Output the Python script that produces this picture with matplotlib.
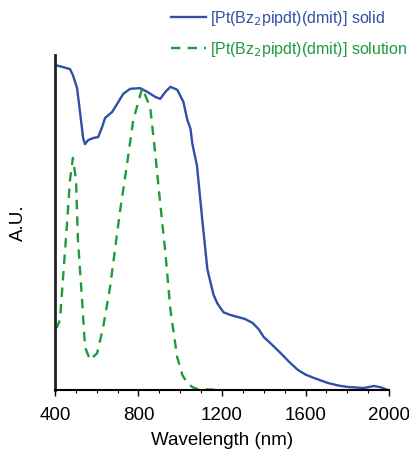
import numpy as np
import matplotlib.pyplot as plt

plt.rcParams['font.family'] = ['Liberation Sans', 'DejaVu Sans']

# solid state spectrum (wavelength nm, normalised absorbance)
solid_nm = [400, 438, 472, 486, 506, 520, 535, 544, 559, 583, 607, 626, 640,
            674, 698, 727, 760, 808, 842, 880, 904, 929, 953, 986, 1015, 1034,
            1049, 1058, 1080, 1106, 1130, 1159, 1178, 1207, 1240, 1275, 1310,
            1347, 1375, 1400, 1440, 1481, 1520, 1563, 1600, 1640, 1707, 1760,
            1803, 1880, 1928, 1960, 1995]
solid_au = [0.970, 0.964, 0.958, 0.940, 0.901, 0.830, 0.752, 0.734, 0.746,
            0.752, 0.755, 0.785, 0.812, 0.830, 0.854, 0.884, 0.899, 0.901,
            0.890, 0.875, 0.869, 0.890, 0.905, 0.896, 0.860, 0.806, 0.780,
            0.735, 0.670, 0.505, 0.360, 0.285, 0.258, 0.232, 0.224, 0.218,
            0.212, 0.200, 0.182, 0.158, 0.135, 0.110, 0.085, 0.060, 0.046,
            0.036, 0.021, 0.013, 0.009, 0.006, 0.012, 0.008, 0.000]

# solution spectrum
sol_nm = [400, 410, 424, 438, 458, 472, 486, 501, 510, 530, 544, 568, 602,
          631, 664, 698, 712, 746, 775, 818, 856, 880, 904, 929, 953, 985,
          1010, 1033, 1060, 1081, 1191]
sol_au = [0.185, 0.188, 0.209, 0.328, 0.498, 0.627, 0.693, 0.627, 0.448,
          0.269, 0.128, 0.090, 0.110, 0.188, 0.307, 0.469, 0.535, 0.678,
          0.806, 0.901, 0.845, 0.707, 0.558, 0.409, 0.239, 0.099, 0.045,
          0.021, 0.008, 0.003, 0.0]

blue = '#2f4fa8'
green = '#1f9a3c'

fig = plt.figure(figsize=(4.1, 4.5), dpi=100)
ax = fig.add_axes([0.134, 0.1333, 0.815, 0.7445])

ax.plot(solid_nm, solid_au, color=blue, lw=1.7, solid_joinstyle='round',
        label='[Pt(Bz$_2$pipdt)(dmit)] solid')
ax.plot(sol_nm, sol_au, color=green, lw=1.7, ls=(0, (4, 3)),
        dash_joinstyle='round',
        label='[Pt(Bz$_2$pipdt)(dmit)] solution')

ax.set_xlim(400, 2000)
ax.set_ylim(0, 1)
ax.set_xticks([400, 800, 1200, 1600, 2000])
ax.set_xticks(np.arange(400, 2001, 100), minor=True)
ax.set_yticks([])
ax.tick_params(axis='x', labelsize=13.5, length=4, width=1, direction='out',
               pad=8)
ax.tick_params(axis='x', which='minor', length=2.5, width=0.8)
ax.spines['top'].set_visible(False)
ax.spines['right'].set_visible(False)
ax.spines['left'].set_linewidth(2)
ax.spines['left'].set_color('#222222')
ax.spines['bottom'].set_linewidth(1.5)
ax.set_xlabel('Wavelength (nm)', fontsize=13.5, labelpad=6)
ax.set_ylabel('A.U.', fontsize=13.5, labelpad=20)

ax.legend(loc='upper right', bbox_to_anchor=(1.01, 0.995),
          bbox_transform=fig.transFigure, frameon=False, fontsize=11.5,
          labelcolor='linecolor', handlelength=2.2, handletextpad=0.3,
          labelspacing=0.75, borderaxespad=0)

fig.savefig('out.png', dpi=100)
